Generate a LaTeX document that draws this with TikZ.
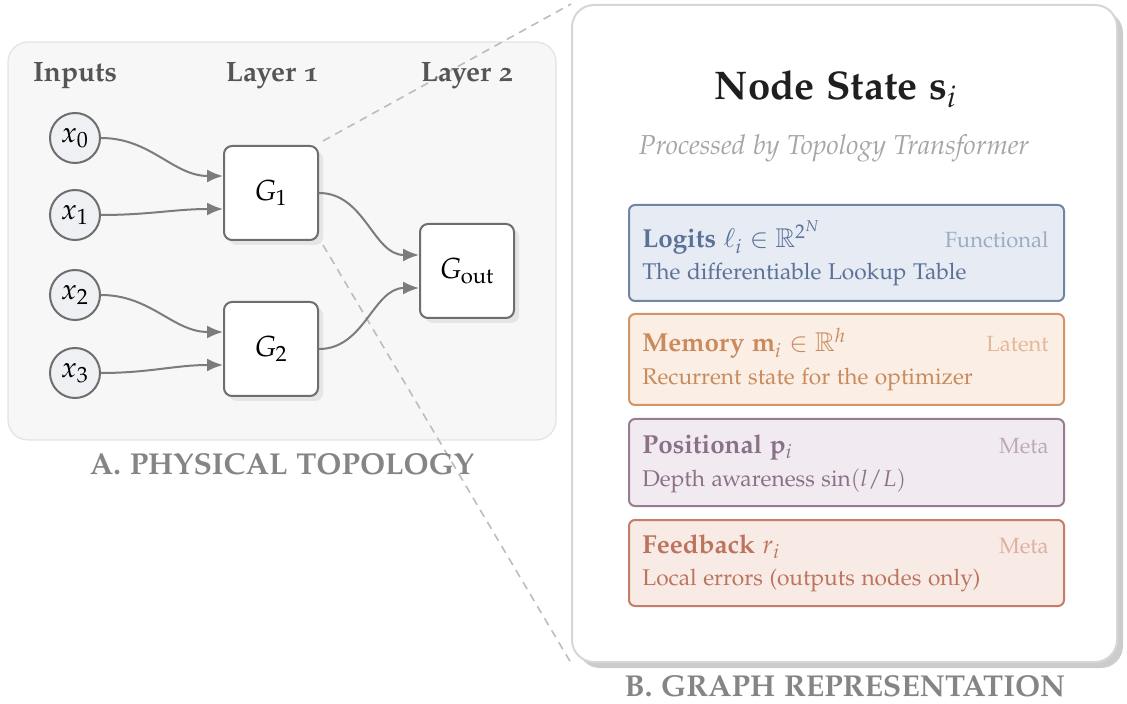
\documentclass[tikz,border=0pt]{standalone}
\usepackage[T1]{fontenc}
\usepackage{amssymb}
\usepackage[osf,noBBpl]{mathpazo}
\usetikzlibrary{arrows.meta,shadows}

\definecolor{hdr}{HTML}{555555}
\definecolor{cap}{HTML}{858585}
\definecolor{wirec}{HTML}{7C7C7C}
\definecolor{gateb}{HTML}{6E6E6E}
\definecolor{inpf}{HTML}{EFF0F3}
\definecolor{zoomc}{HTML}{BDBDBD}
% field colours: fill, border, title, tag
\definecolor{luF}{HTML}{E6EBF4}\definecolor{luB}{HTML}{6F84A6}\definecolor{luT}{HTML}{5B7298}\definecolor{luG}{HTML}{9DACC5}
\definecolor{meF}{HTML}{FAEEE5}\definecolor{meB}{HTML}{D39468}\definecolor{meT}{HTML}{C98A5C}\definecolor{meG}{HTML}{E4B797}
\definecolor{poF}{HTML}{F2EAF1}\definecolor{poB}{HTML}{977C92}\definecolor{poT}{HTML}{8A7187}\definecolor{poG}{HTML}{BBA9B8}
\definecolor{fbF}{HTML}{F8EAE4}\definecolor{fbB}{HTML}{C57D68}\definecolor{fbT}{HTML}{BC745E}\definecolor{fbG}{HTML}{DEB0A2}

\pgfdeclarelayer{panels}
\pgfdeclarelayer{zoomlines}
\pgfsetlayers{panels,zoomlines,main}

\tikzset{
  panelA/.style={draw=black!11, fill=black!3, line width=0.6pt, rounded corners=10pt,
    minimum width=274pt, minimum height=199pt, inner sep=0pt},
  panelB/.style={draw=black!16, fill=white, line width=1pt, rounded corners=11pt,
    minimum width=272.5pt, minimum height=328.5pt, inner sep=0pt,
    drop shadow={shadow xshift=3pt, shadow yshift=-3pt, fill=black!20, opacity=1}},
  colhead/.style={anchor=base, inner sep=0pt, text=hdr, font=\fontsize{14}{16}\selectfont\bfseries},
  caption/.style={anchor=base, inner sep=0pt, text=cap, font=\fontsize{15.1}{17}\selectfont\bfseries},
  inp/.style={circle, draw=gateb, fill=inpf, line width=1pt, minimum size=25pt, inner sep=0pt,
    font=\fontsize{14.5}{14.5}\selectfont},
  gate/.style={draw=gateb, fill=white, line width=1pt, rounded corners=4pt,
    minimum width=47pt, minimum height=47pt, inner sep=0pt, font=\fontsize{14.5}{14.5}\selectfont,
    drop shadow={shadow xshift=2.5pt, shadow yshift=-2.5pt, fill=black!10, opacity=1}},
  wire/.style={draw=wirec, line width=1pt, -{Latex[length=8pt,width=6.5pt]}},
  zoomline/.style={draw=zoomc, line width=0.8pt, dash pattern=on 4pt off 3pt},
  field/.style={line width=1pt, rounded corners=3pt, anchor=north west,
    minimum width=217.5pt, inner sep=0pt},
  ftitle/.style={anchor=base west, inner sep=0pt, font=\fontsize{13}{15}\selectfont\bfseries},
  fdesc/.style={anchor=base west, inner sep=0pt, font=\fontsize{11.35}{13}\selectfont},
  ftag/.style={anchor=base east, inner sep=0pt, font=\fontsize{11}{13}\selectfont},
}

\begin{document}
\begin{tikzpicture}[x=0.5pt, y=-0.5pt]
\useasboundingbox (0,0) rectangle (1127,704);

% ---------- A: physical topology ----------
\begin{pgfonlayer}{panels}
  \node[panelA] (phys) at (282,241) {};
\end{pgfonlayer}

\node[colhead] (hIn) at (75,82) {Inputs};
\node[colhead] (hL1) at (272,82) {Layer 1};
\node[colhead] (hL2) at (467,82) {Layer 2};

\node[inp] (x0) at (75,138) {$x_0$};
\node[inp] (x1) at (75,215) {$x_1$};
\node[inp] (x2) at (75,295) {$x_2$};
\node[inp] (x3) at (75,373) {$x_3$};

\node[gate] (G1) at (271,193) {$G_1$};
\node[gate] (G2) at (271,349) {$G_2$};
\node[gate] (Go) at (467,271) {$G_{\mathrm{out}}$};

\draw[wire] (x0.east) to[out=0,in=180] ([yshift=8.5pt]G1.west);
\draw[wire] (x1.east) to[out=0,in=180] ([yshift=-8pt]G1.west);
\draw[wire] (x2.east) to[out=0,in=180] ([yshift=8.5pt]G2.west);
\draw[wire] (x3.east) to[out=0,in=180] ([yshift=-8pt]G2.west);
\draw[wire] (G1.east) to[out=0,in=180] ([yshift=8pt]Go.west);
\draw[wire] (G2.east) to[out=0,in=180] ([yshift=-8.5pt]Go.west);

\node[caption] (capA) at (282,474) {A. PHYSICAL TOPOLOGY};

% ---------- B: graph representation ----------
\node[panelB] (repr) at (844.5,333.5) {};

\begin{pgfonlayer}{zoomlines}
  \draw[zoomline] ([shift={(2pt,2pt)}]G1.north east) -- (repr.north west);
  \draw[zoomline] ([shift={(2pt,-2pt)}]G1.south east) -- (repr.south west);
\end{pgfonlayer}

\node[anchor=base, inner sep=0pt, text=black!88, font=\fontsize{20}{22}\selectfont\bfseries] (ttl) at (836,100)
  {Node State \textbf{s}$_i$};
\node[anchor=base, inner sep=0pt, text=black!35, font=\fontsize{13.7}{15}\selectfont\itshape] (sub) at (834,155)
  {Processed by Topology Transformer};

% logits
\node[field, draw=luB, fill=luF, minimum height=48pt] (fLog) at (628,204) {};
\node[ftitle, text=luT] (tLog) at (642,248) {Logits $\ell_i\in\mathbb{R}^{2^N}$};
\node[ftag, text=luG] (gLog) at (1049,248) {Functional};
\node[fdesc, text=luT] (dLog) at (642,280) {The differentiable Lookup Table};

% memory
\node[field, draw=meB, fill=meF, minimum height=45.5pt] (fMem) at (628,313) {};
\node[ftitle, text=meT] (tMem) at (642,352) {Memory \textbf{m}$_i\in\mathbb{R}^h$};
\node[ftag, text=meG] (gMem) at (1049,352) {Latent};
\node[fdesc, text=meT] (dMem) at (642,385) {Recurrent state for the optimizer};

% positional
\node[field, draw=poB, fill=poF, minimum height=43.5pt] (fPos) at (628,418) {};
\node[ftitle, text=poT] (tPos) at (642,453) {Positional \textbf{p}$_i$};
\node[ftag, text=poG] (gPos) at (1049,453) {Meta};
\node[fdesc, text=poT] (dPos) at (642,487) {Depth awareness $\sin(l/L)$};

% feedback
\node[field, draw=fbB, fill=fbF, minimum height=43pt] (fFb) at (628,519) {};
\node[ftitle, text=fbT] (tFb) at (642,553) {Feedback $r_i$};
\node[ftag, text=fbG] (gFb) at (1049,553) {Meta};
\node[fdesc, text=fbT] (dFb) at (642,585) {Local errors (outputs nodes only)};

\node[caption] (capB) at (845,696) {B. GRAPH REPRESENTATION};
\end{tikzpicture}
\end{document}
